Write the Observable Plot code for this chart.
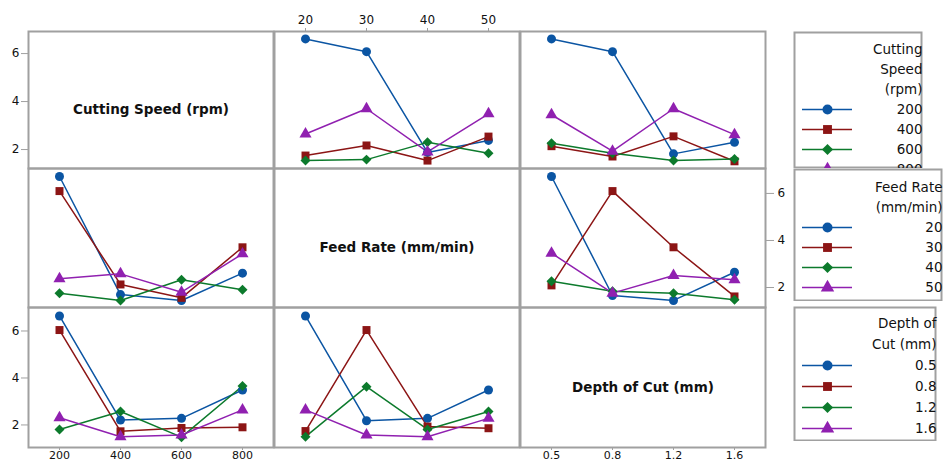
<!DOCTYPE html>
<html><head><meta charset="utf-8">
<script src="https://cdn.jsdelivr.net/npm/d3@7"></script>
<script src="https://cdn.jsdelivr.net/npm/@observablehq/plot@0.6"></script>
<style>
html,body{margin:0;padding:0;background:#fff;}
#chart{position:relative;width:947px;height:464px;overflow:hidden;background:#fff;}
#chart svg{position:absolute;overflow:hidden;background:transparent;}
</style></head><body><div id="chart"></div>
<script>
// Factor levels (tick labels)
const speedLevels = ["200", "400", "600", "800"];
const feedLevels = ["20", "30", "40", "50"];
const depthLevels = ["0.5", "0.8", "1.2", "1.6"];

// Row 1: lines = Cutting Speed levels
const speedByFeed = [
  [6.61, 6.08, 1.88, 2.38],
  [1.75, 2.17, 1.54, 2.54],
  [1.54, 1.58, 2.30, 1.85],
  [2.65, 3.70, 1.90, 3.49]
];
const speedByDepth = [
  [6.61, 6.08, 1.82, 2.30],
  [2.14, 1.71, 2.55, 1.51],
  [2.26, 1.85, 1.54, 1.61],
  [3.45, 1.93, 3.70, 2.62]
];
// Row 2: lines = Feed Rate levels
const feedBySpeed = [
  [6.72, 1.70, 1.45, 2.61],
  [6.10, 2.13, 1.56, 3.71],
  [1.76, 1.45, 2.33, 1.90],
  [2.37, 2.58, 1.80, 3.43]
];
const feedByDepth = [
  [6.72, 1.66, 1.45, 2.65],
  [2.09, 6.10, 3.71, 1.62],
  [2.27, 1.84, 1.76, 1.48],
  [3.46, 1.76, 2.51, 2.33]
];
// Row 3: lines = Depth of Cut levels
const depthBySpeed = [
  [6.64, 2.21, 2.28, 3.49],
  [6.04, 1.73, 1.87, 1.90],
  [1.81, 2.57, 1.48, 3.66],
  [2.31, 1.50, 1.57, 2.64]
];
const depthByFeed = [
  [6.64, 2.18, 2.28, 3.49],
  [1.74, 6.04, 1.93, 1.86],
  [1.50, 3.63, 1.81, 2.57],
  [2.64, 1.57, 1.50, 2.28]
];

const yTicks = [2, 4, 6];
const colors = ["#0b55a3", "#8c1515", "#0c7a2c", "#9020b0"];
const symbols = ["circle", "square", "diamond2", "triangle"];
const titles = ["Cutting Speed (rpm)", "Feed Rate (mm/min)", "Depth of Cut (mm)"];
const legendTitles = [["Cutting", "Speed", "(rpm)"], ["Feed Rate", "(mm/min)"], ["Depth of", "Cut (mm)"]];

// layout
const FONT = "'DejaVu Sans', sans-serif";
const colLeft = [28, 274, 520], colWidth = 245;
const rowTop = [31, 168, 307], rowHeight = [137, 139, 140];
const rowDomain = [[1.21, 6.92], [1.15, 7.06], [1.04, 7.0]];
const M = {l: 30, r: 30, t: 31, b: 20};
const gray = "#a0a0a0";
const factorLevels = [speedLevels, feedLevels, depthLevels];
const cellValues = {
  "0,1": speedByFeed, "0,2": speedByDepth,
  "1,0": feedBySpeed, "1,2": feedByDepth,
  "2,0": depthBySpeed, "2,1": depthByFeed
};

const chart = document.getElementById("chart");

function tidy(xLevels, sLevels, values) {
  return values.flatMap((arr, i) => arr.map((v, j) => ({x: xLevels[j], s: sLevels[i], y: v})));
}

for (let row = 0; row < 3; row++) {
  for (let col = 0; col < 3; col++) {
    const xLevels = factorLevels[col], sLevels = factorLevels[row];
    const marks = [Plot.frame({stroke: gray, strokeWidth: 2})];
    const values = cellValues[row + "," + col];
    if (values) {
      const data = tidy(xLevels, sLevels, values);
      marks.push(Plot.line(data, {x: "x", y: "y", z: "s", stroke: "s", strokeWidth: 1.5}));
      marks.push(Plot.dot(data, {x: "x", y: "y", fill: "s", symbol: "s", r: 4.5}));
    }
    if (row === col) {
      marks.push(Plot.text([titles[row]], {text: d => d, frameAnchor: "middle", dy: 10, fontSize: 13.5, fontWeight: "bold", fill: "#111"}));
    }
    if (col === 0 && row !== 1) {
      marks.push(Plot.axisY(yTicks, {anchor: "left", tickSize: 7, tickPadding: 2, stroke: gray, fill: "#111", fontSize: 12, label: null}));
    }
    if (col === 2 && row === 1) {
      marks.push(Plot.axisY(yTicks, {anchor: "right", tickSize: 8, tickPadding: 4, stroke: gray, fill: "#111", fontSize: 12, label: null}));
    }
    if (row === 0 && col === 1) {
      marks.push(Plot.axisX({anchor: "top", tickSize: 4, tickPadding: 4, stroke: gray, fill: "#111", fontSize: 12, label: null}));
    }
    if (row === 2 && col !== 1) {
      marks.push(Plot.axisX({anchor: "bottom", tickSize: 3, tickPadding: 1, stroke: gray, fill: "#111", fontSize: 11, label: null}));
    }
    const svg = Plot.plot({
      width: colWidth + M.l + M.r,
      height: rowHeight[row] + M.t + M.b,
      marginLeft: M.l, marginRight: M.r, marginTop: M.t, marginBottom: M.b,
      style: {fontFamily: FONT, background: "transparent", overflow: "visible"},
      x: {type: "point", domain: xLevels, padding: 0.5, axis: null, label: null},
      y: {domain: rowDomain[row], axis: null, label: null},
      color: {type: "ordinal", domain: sLevels, range: colors},
      symbol: {domain: sLevels, range: symbols},
      marks
    });
    svg.style.left = (colLeft[col] - M.l) + "px";
    svg.style.top = (rowTop[row] - M.t) + "px";
    svg.style.overflow = "visible";
    chart.appendChild(svg);
  }
}

// Legends
const legendBoxes = [
  {top: 31, height: 137, yRange: [16, 139], right: 129},
  {top: 168, height: 133, yRange: [17, 120], right: 149},
  {top: 306, height: 135, yRange: [17, 122], right: 143}
];
const LW = 162;
legendBoxes.forEach((box, i) => {
  const levels = factorLevels[i];
  const rows = [...legendTitles[i], ...levels];
  const svg = Plot.plot({
    width: LW, height: box.height,
    marginLeft: 0, marginTop: 0, marginBottom: 0, marginRight: LW - box.right,
    style: {fontFamily: FONT, background: "transparent"},
    x: {type: "band", domain: ["swatch"], range: [9, 59], padding: 0, axis: null},
    y: {type: "point", domain: rows, range: box.yRange, padding: 0, axis: null},
    color: {type: "ordinal", domain: levels, range: colors},
    symbol: {domain: levels, range: symbols},
    marks: [
      Plot.frame({stroke: gray, strokeWidth: 2, inset: 1}),
      Plot.tickY(levels, {x: () => "swatch", y: d => d, stroke: d => d, strokeWidth: 1.5}),
      Plot.dot(levels, {x: () => "swatch", y: d => d, fill: d => d, symbol: d => d, r: 5}),
      Plot.text(rows, {y: d => d, text: d => d, frameAnchor: "right", textAnchor: "end", fontSize: 13.5, fill: "#111"})
    ]
  });
  svg.style.left = "793px";
  svg.style.top = box.top + "px";
  chart.appendChild(svg);
});
</script></body></html>
